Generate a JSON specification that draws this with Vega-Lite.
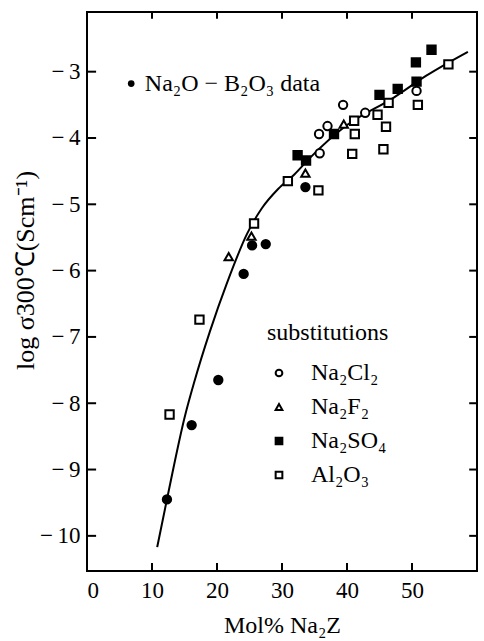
{
  "$schema": "https://vega.github.io/schema/vega-lite/v6.json",
  "width": 390,
  "height": 559,
  "autosize": {"type": "none"},
  "padding": {"left": 87, "top": 12, "right": 7, "bottom": 70},
  "background": "white",
  "config": {
    "view": {"stroke": "black", "strokeWidth": 2},
    "font": "Liberation Serif",
    "axis": {"grid": false, "domain": false, "ticks": false, "labelColor": "black", "titleColor": "black", "labelFont": "Liberation Serif", "titleFont": "Liberation Serif", "titleFontWeight": "normal"},
    "legend": {"symbolStrokeColor": "black", "symbolStrokeWidth": 2, "symbolOpacity": 1}
  },
  "datasets": {
    "curve": [
      {"x": 10.8, "y": -10.17}, {"x": 12.3, "y": -9.45}, {"x": 15.1, "y": -8.18}, {"x": 16.5, "y": -7.68},
      {"x": 18.9, "y": -6.92}, {"x": 21.6, "y": -6.17}, {"x": 24.6, "y": -5.45}, {"x": 26.9, "y": -5.06},
      {"x": 29.4, "y": -4.77}, {"x": 31.9, "y": -4.55}, {"x": 34.3, "y": -4.3}, {"x": 39.8, "y": -3.82},
      {"x": 47.2, "y": -3.39}, {"x": 52.2, "y": -3.06}, {"x": 58.6, "y": -2.7}
    ],
    "points": [
      {"x": 24.1, "y": -6.05, "series": "Na₂O−B₂O₃ data"},
      {"x": 25.4, "y": -5.62, "series": "Na₂O−B₂O₃ data"},
      {"x": 27.5, "y": -5.6, "series": "Na₂O−B₂O₃ data"},
      {"x": 33.6, "y": -4.74, "series": "Na₂O−B₂O₃ data"},
      {"x": 20.2, "y": -7.65, "series": "Na₂O−B₂O₃ data"},
      {"x": 16.1, "y": -8.33, "series": "Na₂O−B₂O₃ data"},
      {"x": 12.3, "y": -9.45, "series": "Na₂O−B₂O₃ data"},
      {"x": 39.4, "y": -3.5, "series": "Na₂Cl₂"},
      {"x": 35.7, "y": -3.94, "series": "Na₂Cl₂"},
      {"x": 37.0, "y": -3.82, "series": "Na₂Cl₂"},
      {"x": 42.8, "y": -3.62, "series": "Na₂Cl₂"},
      {"x": 50.7, "y": -3.29, "series": "Na₂Cl₂"},
      {"x": 35.8, "y": -4.23, "series": "Na₂Cl₂"},
      {"x": 21.8, "y": -5.79, "series": "Na₂F₂"},
      {"x": 39.5, "y": -3.79, "series": "Na₂F₂"},
      {"x": 33.6, "y": -4.53, "series": "Na₂F₂"},
      {"x": 25.3, "y": -5.48, "series": "Na₂F₂"},
      {"x": 32.4, "y": -4.26, "series": "Na₂SO₄"},
      {"x": 33.7, "y": -4.34, "series": "Na₂SO₄"},
      {"x": 38.0, "y": -3.94, "series": "Na₂SO₄"},
      {"x": 45.0, "y": -3.35, "series": "Na₂SO₄"},
      {"x": 47.8, "y": -3.26, "series": "Na₂SO₄"},
      {"x": 50.6, "y": -2.86, "series": "Na₂SO₄"},
      {"x": 50.7, "y": -3.15, "series": "Na₂SO₄"},
      {"x": 53.0, "y": -2.67, "series": "Na₂SO₄"},
      {"x": 30.9, "y": -4.65, "series": "Al₂O₃"},
      {"x": 35.6, "y": -4.79, "series": "Al₂O₃"},
      {"x": 25.7, "y": -5.29, "series": "Al₂O₃"},
      {"x": 40.8, "y": -4.24, "series": "Al₂O₃"},
      {"x": 41.2, "y": -3.94, "series": "Al₂O₃"},
      {"x": 41.1, "y": -3.74, "series": "Al₂O₃"},
      {"x": 44.7, "y": -3.65, "series": "Al₂O₃"},
      {"x": 46.0, "y": -3.83, "series": "Al₂O₃"},
      {"x": 45.6, "y": -4.17, "series": "Al₂O₃"},
      {"x": 46.4, "y": -3.47, "series": "Al₂O₃"},
      {"x": 50.9, "y": -3.5, "series": "Al₂O₃"},
      {"x": 55.6, "y": -2.89, "series": "Al₂O₃"},
      {"x": 17.3, "y": -6.74, "series": "Al₂O₃"},
      {"x": 12.7, "y": -8.17, "series": "Al₂O₃"}
    ],
    "tickmarks": [
      {"id": "b10", "x": 10, "y": -10.53}, {"id": "b10", "x": 10, "y": -10.41},
      {"id": "b20", "x": 20, "y": -10.53}, {"id": "b20", "x": 20, "y": -10.41},
      {"id": "b30", "x": 30, "y": -10.53}, {"id": "b30", "x": 30, "y": -10.41},
      {"id": "b40", "x": 40, "y": -10.53}, {"id": "b40", "x": 40, "y": -10.41},
      {"id": "b50", "x": 50, "y": -10.53}, {"id": "b50", "x": 50, "y": -10.41},
      {"id": "t10", "x": 10, "y": -2.1}, {"id": "t10", "x": 10, "y": -2.2},
      {"id": "t20", "x": 20, "y": -2.1}, {"id": "t20", "x": 20, "y": -2.2},
      {"id": "t30", "x": 30, "y": -2.1}, {"id": "t30", "x": 30, "y": -2.2},
      {"id": "t40", "x": 40, "y": -2.1}, {"id": "t40", "x": 40, "y": -2.2},
      {"id": "t50", "x": 50, "y": -2.1}, {"id": "t50", "x": 50, "y": -2.2},
      {"id": "l10", "x": 0, "y": -10}, {"id": "l10", "x": 1.4, "y": -10},
      {"id": "l9", "x": 0, "y": -9}, {"id": "l9", "x": 1.4, "y": -9},
      {"id": "l8", "x": 0, "y": -8}, {"id": "l8", "x": 1.4, "y": -8},
      {"id": "l7", "x": 0, "y": -7}, {"id": "l7", "x": 1.4, "y": -7},
      {"id": "l6", "x": 0, "y": -6}, {"id": "l6", "x": 1.4, "y": -6},
      {"id": "l5", "x": 0, "y": -5}, {"id": "l5", "x": 1.4, "y": -5},
      {"id": "l4", "x": 0, "y": -4}, {"id": "l4", "x": 1.4, "y": -4},
      {"id": "l3", "x": 0, "y": -3}, {"id": "l3", "x": 1.4, "y": -3},
      {"id": "r10", "x": 60, "y": -10}, {"id": "r10", "x": 58.8, "y": -10},
      {"id": "r9", "x": 60, "y": -9}, {"id": "r9", "x": 58.8, "y": -9},
      {"id": "r8", "x": 60, "y": -8}, {"id": "r8", "x": 58.8, "y": -8},
      {"id": "r7", "x": 60, "y": -7}, {"id": "r7", "x": 58.8, "y": -7},
      {"id": "r6", "x": 60, "y": -6}, {"id": "r6", "x": 58.8, "y": -6},
      {"id": "r5", "x": 60, "y": -5}, {"id": "r5", "x": 58.8, "y": -5},
      {"id": "r4", "x": 60, "y": -4}, {"id": "r4", "x": 58.8, "y": -4},
      {"id": "r3", "x": 60, "y": -3}, {"id": "r3", "x": 58.8, "y": -3}
    ],
    "note": [{"x": 6.8, "y": -3.18, "tx": 8.9, "label": "Na₂O − B₂O₃ data"}]
  },
  "layer": [
    {
      "data": {"name": "curve"},
      "mark": {"type": "line", "color": "black", "strokeWidth": 2, "interpolate": "monotone"},
      "encoding": {
        "x": {"field": "x", "type": "quantitative", "scale": {"domain": [0, 60], "nice": false, "zero": false},
              "axis": {"orient": "bottom", "values": [0, 10, 20, 30, 40, 50], "labelPadding": 8, "labelFontSize": 23, "title": "Mol% Na₂Z", "titleFontSize": 24, "titlePadding": 11}},
        "y": {"field": "y", "type": "quantitative", "scale": {"domain": [-10.53, -2.1], "nice": false, "zero": false},
              "axis": {"orient": "left", "values": [-10, -9, -8, -7, -6, -5, -4, -3], "labelPadding": 7, "labelFontSize": 23,
                       "labelExpr": "'−\u2009' + format(-datum.value, 'd')",
                       "title": "log σ300℃(Scm⁻¹)", "titleFontSize": 26, "titleX": -62, "titleY": 258, "titleBaseline": "middle", "titleAngle": -90}}
      }
    },
    {
      "data": {"name": "tickmarks"},
      "mark": {"type": "line", "color": "black", "strokeWidth": 2},
      "encoding": {
        "x": {"field": "x", "type": "quantitative"},
        "y": {"field": "y", "type": "quantitative"},
        "detail": {"field": "id", "type": "nominal"}
      }
    },
    {
      "data": {"name": "points"},
      "mark": {"type": "point", "strokeWidth": 2, "opacity": 1, "size": 70, "filled": true},
      "encoding": {
        "x": {"field": "x", "type": "quantitative"},
        "y": {"field": "y", "type": "quantitative"},
        "shape": {"field": "series", "type": "nominal",
                  "scale": {"domain": ["Na₂O−B₂O₃ data", "Na₂Cl₂", "Na₂F₂", "Na₂SO₄", "Al₂O₃"], "range": ["circle", "circle", "triangle-up", "square", "square"]},
                  "legend": {"title": "substitutions", "values": ["Na₂Cl₂", "Na₂F₂", "Na₂SO₄", "Al₂O₃"], "orient": "none", "legendX": 180, "legendY": 309,
                             "titleFont": "Liberation Serif", "titleFontSize": 24, "titleFontWeight": "normal", "titleColor": "black", "titlePadding": 16,
                             "labelFont": "Liberation Serif", "labelFontSize": 24, "labelColor": "black", "labelOffset": 20, "rowPadding": 10,
                             "symbolSize": 45}},
        "fill": {"field": "series", "type": "nominal",
                 "scale": {"domain": ["Na₂O−B₂O₃ data", "Na₂Cl₂", "Na₂F₂", "Na₂SO₄", "Al₂O₃"], "range": ["black", "white", "white", "black", "white"]},
                 "legend": {"title": "substitutions", "values": ["Na₂Cl₂", "Na₂F₂", "Na₂SO₄", "Al₂O₃"], "orient": "none", "legendX": 180, "legendY": 309,
                            "titleFont": "Liberation Serif", "titleFontSize": 24, "titleFontWeight": "normal", "titleColor": "black", "titlePadding": 16,
                            "labelFont": "Liberation Serif", "labelFontSize": 24, "labelColor": "black", "labelOffset": 20, "rowPadding": 10,
                            "symbolSize": 45}},
        "stroke": {"field": "series", "type": "nominal",
                   "scale": {"domain": ["Na₂O−B₂O₃ data", "Na₂Cl₂", "Na₂F₂", "Na₂SO₄", "Al₂O₃"], "range": ["black", "black", "black", "black", "black"]},
                   "legend": {"title": "substitutions", "values": ["Na₂Cl₂", "Na₂F₂", "Na₂SO₄", "Al₂O₃"], "orient": "none", "legendX": 180, "legendY": 309,
                              "titleFont": "Liberation Serif", "titleFontSize": 24, "titleFontWeight": "normal", "titleColor": "black", "titlePadding": 16,
                              "labelFont": "Liberation Serif", "labelFontSize": 24, "labelColor": "black", "labelOffset": 20, "rowPadding": 10,
                              "symbolSize": 45}}
      }
    },
    {
      "data": {"name": "note"},
      "mark": {"type": "point", "filled": true, "color": "black", "size": 45, "opacity": 1},
      "encoding": {
        "x": {"field": "x", "type": "quantitative"},
        "y": {"field": "y", "type": "quantitative"}
      }
    },
    {
      "data": {"name": "note"},
      "mark": {"type": "text", "align": "left", "baseline": "middle", "font": "Liberation Serif", "fontSize": 24, "color": "black"},
      "encoding": {
        "x": {"field": "tx", "type": "quantitative"},
        "y": {"field": "y", "type": "quantitative"},
        "text": {"field": "label"}
      }
    }
  ]
}
